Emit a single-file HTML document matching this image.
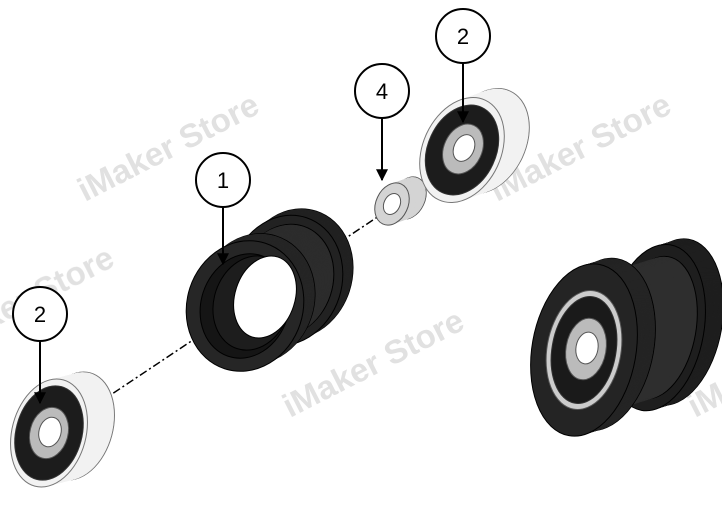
<!DOCTYPE html>
<html><head><style>body{margin:0;background:#fff}svg{display:block}</style></head><body>
<svg id="s" width="722" height="509" viewBox="0 0 722 509" xmlns="http://www.w3.org/2000/svg" font-family="Liberation Sans, sans-serif">
<defs>
<marker id="ar" viewBox="0 0 10 10" refX="9" refY="5" markerWidth="6" markerHeight="6" orient="auto"><path d="M0,0L10,5L0,10z" fill="#000"/></marker>
</defs>
<g fill="#dcdcdc" font-weight="bold" font-size="33" opacity="0.85">
<text transform="translate(85,202) rotate(-27)">iMaker Store</text>
<text transform="translate(497,202) rotate(-27)">iMaker Store</text>
<text transform="translate(290,418) rotate(-27)">iMaker Store</text>
<text transform="translate(-60,355) rotate(-27)">iMaker Store</text>
<text transform="translate(695,418) rotate(-27)">iMaker Store</text>
</g>
<line x1="100" y1="402" x2="445" y2="172" stroke="#000" stroke-width="1.5" stroke-dasharray="8,3,2,3"/>
<g id="parts"></g>
<g stroke="#000" stroke-width="2" fill="#fff">
<line x1="223" y1="207" x2="223" y2="264" marker-end="url(#ar)"/>
<line x1="382" y1="118" x2="382" y2="180" marker-end="url(#ar)"/>
<line x1="463" y1="63" x2="463" y2="122" marker-end="url(#ar)"/>
<line x1="40" y1="341" x2="40" y2="403" marker-end="url(#ar)"/>
<circle cx="223" cy="180" r="27"/>
<circle cx="382" cy="91" r="27"/>
<circle cx="463" cy="36" r="27"/>
<circle cx="40" cy="314" r="27"/>
</g>
<g font-size="22" text-anchor="middle">
<text x="223" y="188">1</text><text x="382" y="99">4</text><text x="463" y="44">2</text><text x="40" y="322">2</text>
</g>
</svg>
<script>
var g=document.getElementById('parts'),NS='http://www.w3.org/2000/svg';
function el(cx,cy,rx,ry,rot,fill,stroke){var e=document.createElementNS(NS,'ellipse');e.setAttribute('cx',cx);e.setAttribute('cy',cy);e.setAttribute('rx',rx);e.setAttribute('ry',ry);e.setAttribute('transform','rotate('+rot+' '+cx+' '+cy+')');e.setAttribute('fill',fill);if(stroke){e.setAttribute('stroke',stroke);e.setAttribute('stroke-width','1')}g.appendChild(e);}
function cyl(bx,by,fx,fy,rx,ry,rot,fill,stroke){var n=40;el(bx,by,rx,ry,rot,fill,stroke);for(var i=1;i<n;i++){var t=i/n;el(bx+(fx-bx)*t,by+(fy-by)*t,rx,ry,rot,fill);}el(fx,fy,rx,ry,rot,fill,stroke);}
function lerp(a,b,t){return a+(b-a)*t}
(function(){var fx=245,fy=306,bx=296,by=274,r=18;
function p(t){return[lerp(fx,bx,t),lerp(fy,by,t)]}
var a=p(1),b=p(0.8);cyl(a[0],a[1],b[0],b[1],56,66,r,'#222','#000');
a=p(0.8);b=p(0.22);cyl(a[0],a[1],b[0],b[1],47,57,r,'#2c2c2c','#000');
a=p(0.22);b=p(0);cyl(a[0],a[1],b[0],b[1],58,66,r,'#262626','#000');
el(fx,fy,44,53,r,'#151515','#000');el(fx+7,fy-3,38,48,r,'#1d1d1d','#000');
el(fx+20,fy-9,30,42,r,'#fff','#000');})();
cyl(76,426,49,433,37,55,15,'#f2f2f2','#777');
el(49,433,33,48,15,'#1c1c1c','#333');el(49,433,19,26,15,'#bbb','#555');el(50,432,11,15,15,'#fff','#555');
cyl(409,198,392,204,16,22,25,'#d4d4d4','#555');el(392,204,8,11,25,'#fff','#555');
cyl(487,141,462,150,39,55,25,'#f2f2f2','#777');
el(462,150,34,47,25,'#1c1c1c','#333');el(463,149,19,26,25,'#bbb','#555');el(464,148,10,14,25,'#fff','#555');
(function(){var fx=584,fy=350,bx=674,by=322,r=10;
function p(t){return[lerp(fx,bx,t),lerp(fy,by,t)]}
var a=p(1),b=p(0.8);cyl(a[0],a[1],b[0],b[1],48,84,r,'#1e1e1e','#000');
a=p(0.8);b=p(0.2);cyl(a[0],a[1],b[0],b[1],40,72,r,'#2e2e2e','#000');
a=p(0.2);b=p(0);cyl(a[0],a[1],b[0],b[1],52,87,r,'#242424','#000');
el(fx,fy,37,60,r,'#ccc','#555');el(fx,fy,32,54,r,'#1a1a1a','#333');el(fx+2,fy-1,20,31,r,'#bbb','#555');el(fx+3,fy-2,11,16,r,'#fff','#555');})();
</script>
</body></html>
